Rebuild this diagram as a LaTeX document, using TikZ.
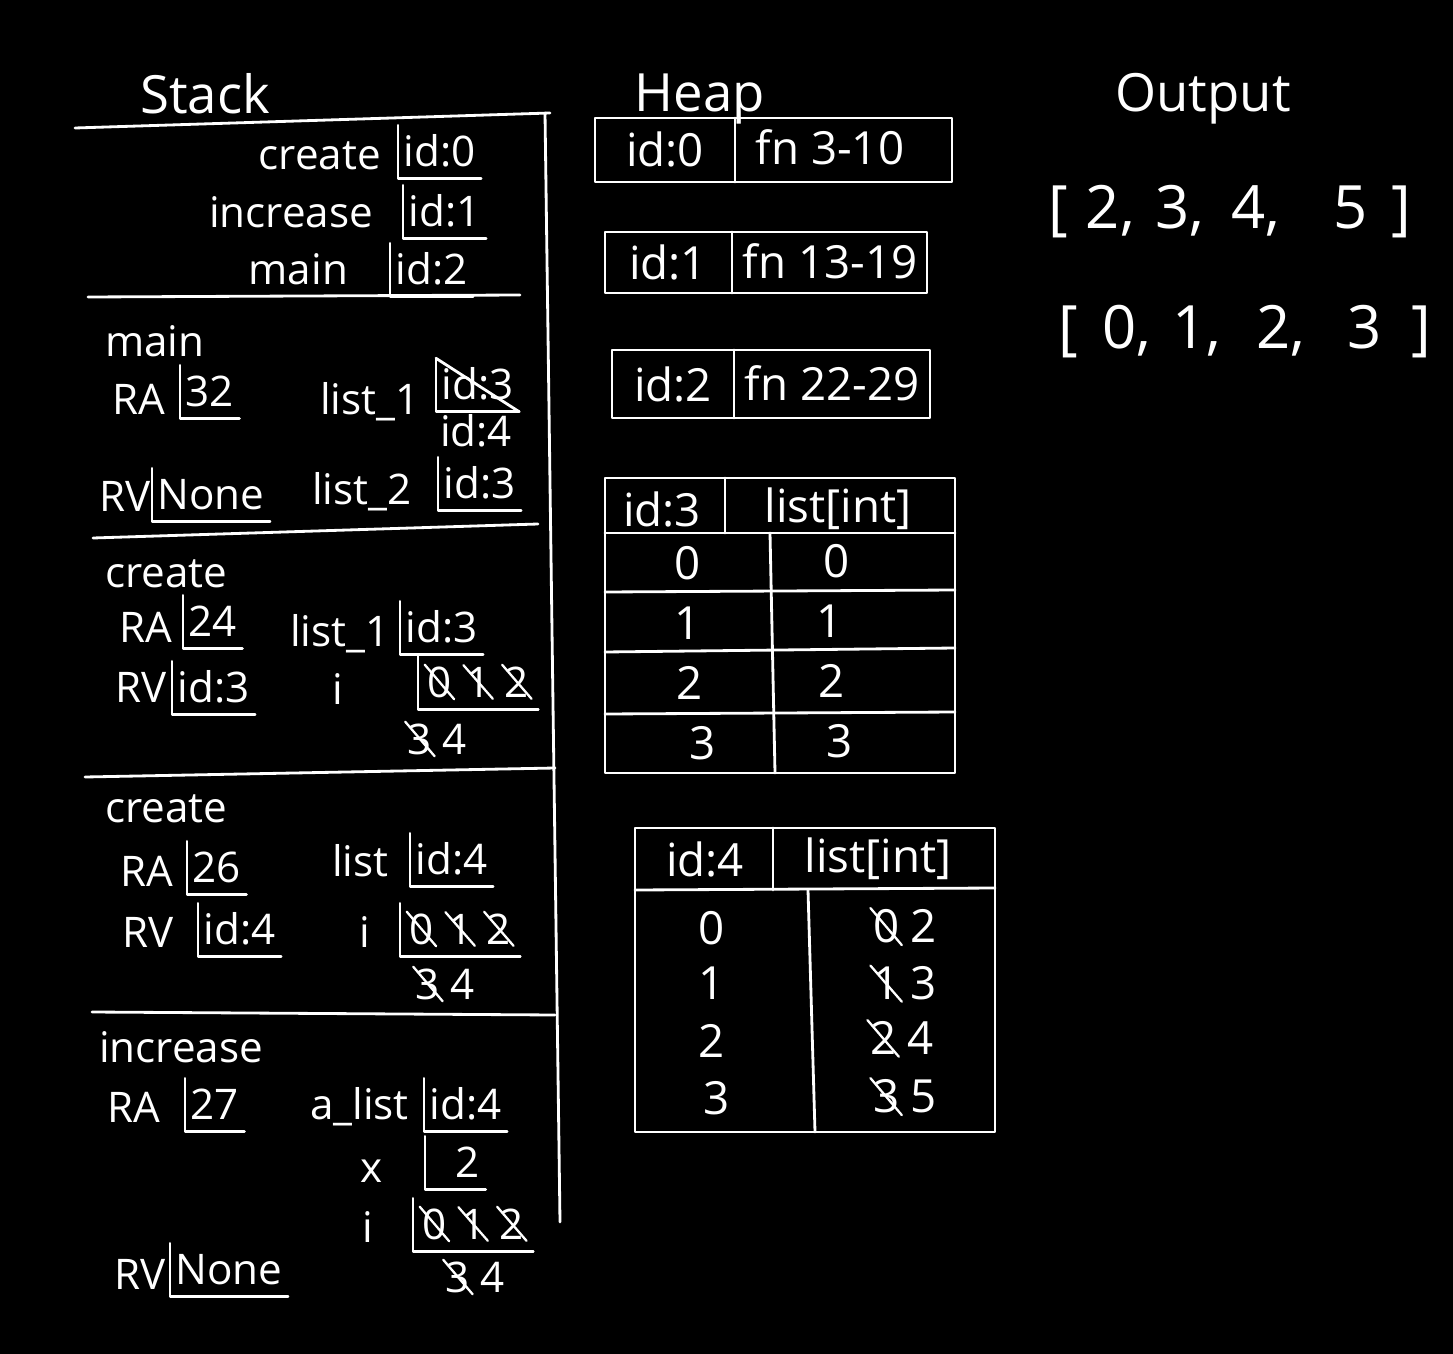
\documentclass[tikz,border=0pt]{standalone}
\usepackage{fontspec}
\setmainfont{Open Sans}
\newcommand{\strk}[1]{\tikz[baseline=(s.base)]{\node[inner sep=0pt,outer sep=0pt,anchor=center,draw=none,text=white,text height=,text depth=](s){#1};\draw[white,line width=1.3pt,line cap=round]([xshift=-1.5pt,yshift=1pt]s.north west)--([xshift=1.5pt,yshift=-1pt]s.south east);}}
\begin{document}
\begin{tikzpicture}[x=0.02cm,y=-0.02cm,
  txt/.style={text=white,font=\fontsize{24}{28}\selectfont,inner sep=1pt,text height=20pt,text depth=4pt},
  ttl/.style={text=white,font=\fontsize{30}{34}\selectfont,inner sep=1pt,text height=24pt,text depth=5pt},
  big/.style={text=white,font=\fontsize{34}{38}\selectfont,inner sep=1pt,text height=27pt,text depth=6pt},
  lv/.style={txt,inner sep=3pt},
  htxt/.style={text=white,font=\fontsize{26}{30}\selectfont,inner sep=1pt,text height=21pt,text depth=4pt},
  ln/.style={draw=white,line width=1.6pt,line cap=round,line join=round}]
\fill[black] (0,0) rectangle (1453,1354);
\useasboundingbox (0,0) rectangle (1453,1354);

% ---------- Stack ----------
\node[ttl] (stk) at (205,97) {Stack};
\draw[ln] (75,128) -- (550,113);
\draw[ln] (545,113) -- (560,1222);

% frame 1 (globals)
\node[txt,anchor=east] (f1c) at (383,155) {create};
\node[lv,anchor=west] (f1cv) at (398,152) {id:0};
\node[txt,anchor=east] (f1i) at (375,213) {increase};
\node[lv,anchor=west] (f1iv) at (403,212) {id:1};
\node[txt,anchor=east] (f1m) at (350,270) {main};
\node[lv,anchor=west] (f1mv) at (390,270) {id:2};
\draw[ln] (88,297) -- (520,295);

% frame 2 (main)
\node[txt,anchor=west] (f2) at (103,342) {main};
\node[txt,anchor=west] (f2ra) at (110,400) {RA};
\node[lv,anchor=west] (f2rav) at (180,392) {32};
\node[txt,anchor=west] (f2l1) at (318,400) {list\_1};
\node[lv,anchor=west] (f2l1v) at (436,385) {id:3};
\draw[ln] (f2l1v.north west) -- (f2l1v.south east);
\node[txt,anchor=west] (f2l1w) at (438,432) {id:4};
\node[txt,anchor=west] (f2rv) at (97,497) {RV};
\node[lv,anchor=west] (f2rvv) at (152,495) {None};
\node[txt,anchor=west] (f2l2) at (310,490) {list\_2};
\node[lv,anchor=west] (f2l2v) at (438,484) {id:3};
\draw[ln] (93,538) -- (538,524);

% frame 3 (create)
\node[txt,anchor=west] (f3) at (103,573) {create};
\node[txt,anchor=west] (f3ra) at (117,628) {RA};
\node[lv,anchor=west] (f3rav) at (183,622) {24};
\node[txt,anchor=west] (f3l1) at (288,632) {list\_1};
\node[lv,anchor=west] (f3l1v) at (400,628) {id:3};
\node[txt,anchor=west] (f3rv) at (113,688) {RV};
\node[lv,anchor=west] (f3rvv) at (172,688) {id:3};
\node[txt] (f3i) at (338,690) {i};
\node[lv,anchor=west] (f3iv) at (418,683) {\strk{0}\,\strk{1}\,\strk{2}};
\node[txt,anchor=west] (f3iw) at (402,740) {\strk{3}\,4};
\draw[ln] (85,777) -- (555,768);

% frame 4 (create)
\node[txt,anchor=west] (f4) at (103,808) {create};
\node[txt,anchor=west] (f4ra) at (118,872) {RA};
\node[lv,anchor=west] (f4rav) at (187,868) {26};
\node[txt,anchor=west] (f4l) at (330,862) {list};
\node[lv,anchor=west] (f4lv) at (410,860) {id:4};
\node[txt,anchor=west] (f4rv) at (120,933) {RV};
\node[lv,anchor=west] (f4rvv) at (198,930) {id:4};
\node[txt] (f4i) at (365,933) {i};
\node[lv,anchor=west] (f4iv) at (400,930) {\strk{0}\,\strk{1}\,\strk{2}};
\node[txt,anchor=west] (f4iw) at (410,985) {\strk{3}\,4};
\draw[ln] (92,1012) -- (555,1015);

% frame 5 (increase)
\node[txt,anchor=west] (f5) at (97,1048) {increase};
\node[txt,anchor=west] (f5ra) at (105,1108) {RA};
\node[lv,anchor=west] (f5rav) at (185,1105) {27};
\node[txt,anchor=west] (f5al) at (308,1105) {a\_list};
\node[lv,anchor=west] (f5alv) at (424,1105) {id:4};
\node[txt] (f5x) at (372,1168) {x};
\node[lv,anchor=west] (f5xv) at (425,1163) {\hspace{0.6em}2\hspace{0.2em}};
\node[txt] (f5i) at (368,1228) {i};
\node[lv,anchor=west] (f5iv) at (413,1225) {\strk{0}\,\strk{1}\,\strk{2}};
\node[txt,anchor=west] (f5iw) at (440,1278) {\strk{3}\,4};
\node[txt,anchor=west] (f5rv) at (112,1275) {RV};
\node[lv,anchor=west] (f5rvv) at (170,1270) {None};

\foreach \n in {f1cv,f1iv,f1mv,f2rav,f2l1v,f2rvv,f2l2v,f3rav,f3l1v,f3rvv,f3iv,f4rav,f4lv,f4rvv,f4iv,f5rav,f5alv,f5xv,f5iv,f5rvv}
  \draw[ln] (\n.north west) |- (\n.south east);

% ---------- Heap ----------
\node[ttl] (heap) at (700,95) {Heap};
% id:0
\draw[ln] (595,118) rectangle (952,182);
\draw[ln] (735,118) -- (735,182);
\node[htxt] (h0a) at (665,152) {id:0};
\node[htxt] (h0b) at (830,150) {fn 3-10};
% id:1
\draw[ln] (605,232) rectangle (927,293);
\draw[ln] (732,232) -- (732,293);
\node[htxt] (h1a) at (668,265) {id:1};
\node[htxt] (h1b) at (830,264) {fn 13-19};
% id:2
\draw[ln] (612,350) rectangle (930,418);
\draw[ln] (734,350) -- (734,418);
\node[htxt] (h2a) at (673,387) {id:2};
\node[htxt] (h2b) at (832,386) {fn 22-29};
% id:3 table
\draw[ln] (605,478) rectangle (955,773);
\draw[ln] (605,533) -- (955,533);
\draw[ln] (725,478) -- (725,533);
\draw[ln] (770,533) -- (775,773);
\draw[ln] (605,592) -- (955,590);
\draw[ln] (605,652) -- (955,648);
\draw[ln] (605,714) -- (955,712);
\node[htxt] (h3a) at (662,512) {id:3};
\node[htxt] (h3b) at (838,508) {list[int]};
\node[htxt] (h3r0a) at (688,565) {0};
\node[htxt] (h3r0b) at (837,563) {0};
\node[htxt] (h3r1a) at (688,625) {1};
\node[htxt] (h3r1b) at (830,623) {1};
\node[htxt] (h3r2a) at (690,685) {2};
\node[htxt] (h3r2b) at (832,683) {2};
\node[htxt] (h3r3a) at (703,745) {3};
\node[htxt] (h3r3b) at (840,743) {3};
% id:4 table
\draw[ln] (635,828) rectangle (995,1132);
\draw[ln] (635,890) -- (995,888);
\draw[ln] (773,828) -- (773,890);
\draw[ln] (808,890) -- (815,1132);
\node[htxt] (h4a) at (705,862) {id:4};
\node[htxt] (h4b) at (878,858) {list[int]};
\node[htxt] (h4r0a) at (712,930) {0};
\node[htxt] (h4r0b) at (903,928) {\strk{0}\,2};
\node[htxt] (h4r1a) at (712,985) {1};
\node[htxt] (h4r1b) at (903,985) {\strk{1}\,3};
\node[htxt] (h4r2a) at (712,1043) {2};
\node[htxt] (h4r2b) at (900,1040) {\strk{2}\,4};
\node[htxt] (h4r3a) at (717,1100) {3};
\node[htxt] (h4r3b) at (903,1098) {\strk{3}\,5};

% ---------- Output ----------
\node[ttl] (out) at (1203,95) {Output};
\node[big] (o1) at (1230,210) {[\hspace{0.3em}2,\hspace{0.35em}3,\hspace{0.45em}4,\hspace{0.9em}5\hspace{0.4em}]};
\node[big] (o2) at (1245,330) {[\hspace{0.4em}0,\hspace{0.35em}1,\hspace{0.6em}2,\hspace{0.7em}3\hspace{0.5em}]};
\end{tikzpicture}
\end{document}
